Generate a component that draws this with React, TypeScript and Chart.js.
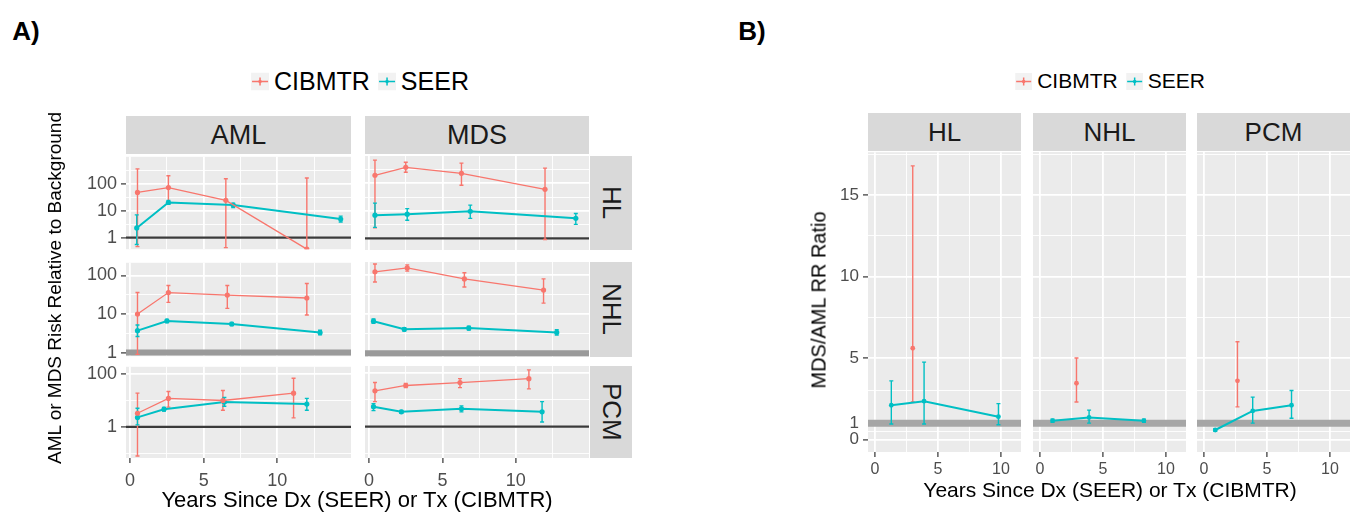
import React, { useEffect, useRef } from "react";
import { Chart, registerables } from "chart.js";
Chart.register(...registerables);

const RED = "#F8766D";
const CYAN = "#00BFC4";
const FONT = "'Liberation Sans', Arial, Helvetica, sans-serif";

// ---------- Panel A: risk relative to background (log scale) ----------
// each point: [years, RR, lower CI, upper CI]
const AML_HL_CIBMTR = [[0.5, 47, 0.47, 350], [2.6, 71, 18, 195], [6.5, 24, 0.43, 150], [12.0, 0.38, 0.38, 160]];
const AML_HL_SEER = [[0.45, 2.3, 0.56, 7], [2.6, 20, 17, 24], [7.0, 16, 13, 19], [14.3, 4.9, 3.8, 6.3]];
const MDS_HL_CIBMTR = [[0.4, 195, 2.4, 690], [2.5, 380, 250, 580], [6.3, 230, 85, 540], [12.0, 60, 0.9, 355]];
const MDS_HL_SEER = [[0.4, 6.9, 2.5, 19], [2.6, 7.5, 4.5, 12], [6.9, 9.6, 5.3, 16], [14.1, 5.3, 3.2, 8]];
const AML_NHL_CIBMTR = [[0.5, 10, 0.9, 36], [2.6, 36, 20, 55], [6.6, 31, 14, 55], [12.0, 26, 9.4, 62]];
const AML_NHL_SEER = [[0.5, 3.7, 2.6, 5.2], [2.5, 6.6, 6.0, 7.2], [6.9, 5.5, 5.0, 6.0], [12.9, 3.3, 2.9, 3.8]];
const MDS_NHL_CIBMTR = [[0.4, 120, 66, 190], [2.6, 150, 125, 180], [6.5, 79, 49, 113], [11.9, 41, 19, 79]];
const MDS_NHL_SEER = [[0.3, 6.6, 5.8, 7.5], [2.4, 4.1, 3.7, 4.5], [6.8, 4.4, 3.9, 4.9], [12.8, 3.4, 2.9, 4.0]];
const AML_PCM_CIBMTR = [[0.5, 3.3, 0.08, 19], [2.6, 12, 5.6, 22], [6.3, 10, 4.3, 24], [11.1, 19, 2.2, 69]];
const AML_PCM_SEER = [[0.5, 2.3, 1.2, 5.1], [2.3, 4.7, 4.0, 5.5], [6.4, 8.7, 6.1, 13], [12.0, 7.3, 4.3, 12]];
const MDS_PCM_CIBMTR = [[0.4, 22, 8.7, 45], [2.5, 35, 29, 42], [6.2, 45, 29, 63], [10.9, 63, 26, 135]];
const MDS_PCM_SEER = [[0.3, 5.6, 4.0, 7.3], [2.2, 3.6, 3.2, 4.1], [6.3, 4.7, 3.6, 6.0], [11.8, 3.6, 1.5, 8.7]];

// ---------- Panel B: MDS/AML RR ratio ----------
const HL_RATIO_CIBMTR = [[3.0, 5.6, 2.3, 16.8]];
const HL_RATIO_SEER = [[1.3, 2.1, 0.95, 3.6], [3.9, 2.35, 0.95, 4.75], [9.8, 1.4, 0.9, 2.2]];
const NHL_RATIO_CIBMTR = [[2.9, 3.45, 2.3, 5.0]];
const NHL_RATIO_SEER = [[1.0, 1.15, 1.05, 1.25], [3.9, 1.35, 1.0, 1.8], [8.25, 1.15, 1.05, 1.25]];
const PCM_RATIO_CIBMTR = [[2.66, 3.6, 2.0, 6.0]];
const PCM_RATIO_SEER = [[0.9, 0.58, 0.5, 0.66], [3.87, 1.75, 1.0, 2.6], [6.95, 2.1, 1.3, 3.0]];

// tick labels
const X_MAJOR = [0, 5, 10];
const X_MINOR = [2.5, 7.5, 12.5, 15];
const LOG_MAJOR_A = [1, 10, 100];
const LOG_MAJOR_PCM = [1, 100];
const B_Y_MAJOR = [0, 1, 5, 10, 15];
const B_Y_MINOR = [0.5, 3, 7.5, 12.5, 17.5];
const B_X_MAJOR = [0, 5, 10];
const B_X_MINOR = [2.5, 7.5];

const PAD = 14;

type Pt = number[];
interface Series { data: Pt[]; color: string; width: number; }
interface Spec {
  key: string;
  left: number; top: number; width: number; height: number;
  xMin: number; xMax: number; xMajor: number[]; xMinor: number[];
  yType: "logarithmic" | "linear"; yMin: number; yMax: number; yMajor: number[]; yMinor: number[];
  yNoTick?: number[];
  showX: boolean; showY: boolean; yAxisW: number; xAxisH: number; xPad: number;
  xFont: number; yFont: number;
  series: Series[];
  ref: { value: number; color: string; width: number };
  barW: number; cap: number; radius: number;
}

const near = (arr: number[], v: number) => arr.some((m) => Math.abs(m - v) < 1e-9);

const decoPlugin = {
  id: "deco",
  beforeDraw(chart: any) {
    const { ctx, chartArea: a } = chart;
    ctx.save();
    ctx.fillStyle = "#EBEBEB";
    ctx.fillRect(a.left, a.top, a.right - a.left, a.bottom - a.top);
    ctx.restore();
  },
  beforeDatasetsDraw(chart: any) {
    const spec: Spec = chart.config.options.specRef;
    const { ctx, chartArea: a, scales } = chart;
    const x = scales.x, y = scales.y;
    ctx.save();
    ctx.beginPath();
    ctx.rect(a.left, a.top, a.right - a.left, a.bottom - a.top);
    ctx.clip();
    const py = y.getPixelForValue(spec.ref.value);
    ctx.strokeStyle = spec.ref.color;
    ctx.lineWidth = spec.ref.width;
    ctx.beginPath();
    ctx.moveTo(a.left, py);
    ctx.lineTo(a.right, py);
    ctx.stroke();
    chart.data.datasets.forEach((ds: any) => {
      ctx.strokeStyle = ds.borderColor;
      ctx.lineWidth = spec.barW;
      ds.data.forEach((p: any) => {
        const px = x.getPixelForValue(p.x);
        const p1 = y.getPixelForValue(p.lo);
        const p2 = y.getPixelForValue(p.hi);
        ctx.beginPath();
        ctx.moveTo(px, p1);
        ctx.lineTo(px, p2);
        ctx.moveTo(px - spec.cap, p1);
        ctx.lineTo(px + spec.cap, p1);
        ctx.moveTo(px - spec.cap, p2);
        ctx.lineTo(px + spec.cap, p2);
        ctx.stroke();
      });
    });
    ctx.restore();
  },
};

function Panel({ spec }: { spec: Spec }) {
  const ref = useRef<HTMLCanvasElement>(null);
  const yW = spec.showY ? spec.yAxisW : 0;
  const xH = spec.showX ? spec.xAxisH : 0;
  const w = PAD + yW + spec.width + PAD;
  const h = PAD + spec.height + xH + PAD;
  useEffect(() => {
    const xTicks = [...spec.xMajor, ...spec.xMinor].sort((a, b) => a - b);
    const yTicks = [...spec.yMajor, ...spec.yMinor].sort((a, b) => a - b);
    const chart = new Chart(ref.current as HTMLCanvasElement, {
      type: "line",
      data: {
        datasets: spec.series.map((s) => ({
          data: s.data.map((p) => ({ x: p[0], y: p[1], lo: p[2], hi: p[3] })),
          borderColor: s.color,
          backgroundColor: s.color,
          borderWidth: s.width,
          pointRadius: spec.radius,
          pointBorderWidth: 0,
          pointBackgroundColor: s.color,
          showLine: s.data.length > 1,
          tension: 0,
        })) as any,
      },
      plugins: [decoPlugin],
      options: {
        specRef: spec,
        animation: false,
        responsive: false,
        devicePixelRatio: 1,
        layout: { padding: PAD },
        plugins: { legend: { display: false }, tooltip: { enabled: false } },
        scales: {
          x: {
            type: "linear",
            min: spec.xMin,
            max: spec.xMax,
            bounds: "data",
            afterBuildTicks: (s: any) => { s.ticks = xTicks.map((v) => ({ value: v })); },
            afterFit: (s: any) => { s.height = xH; },
            ticks: {
              display: spec.showX,
              autoSkip: false,
              maxRotation: 0,
              padding: spec.xPad,
              font: { size: spec.xFont, family: FONT },
              color: "#4D4D4D",
              callback: (v: any) => (near(spec.xMajor, Number(v)) ? String(v) : ""),
            },
            grid: {
              color: "#FFFFFF",
              lineWidth: (c: any) => (near(spec.xMajor, c.tick?.value) ? 1.8 : 0.9),
              drawTicks: spec.showX,
              tickLength: 5,
              tickWidth: 1.2,
              tickColor: (c: any) => (near(spec.xMajor, c.tick?.value) ? "#333333" : "rgba(0,0,0,0)"),
            },
            border: { display: false },
          },
          y: {
            type: spec.yType,
            min: spec.yMin,
            max: spec.yMax,
            bounds: "data",
            afterBuildTicks: (s: any) => { s.ticks = yTicks.map((v) => ({ value: v })); },
            afterFit: (s: any) => { s.width = yW; },
            ticks: {
              display: spec.showY,
              autoSkip: false,
              padding: 4,
              font: { size: spec.yFont, family: FONT },
              color: "#4D4D4D",
              callback: (v: any) => (near(spec.yMajor, Number(v)) ? String(v) : ""),
            },
            grid: {
              color: "#FFFFFF",
              lineWidth: (c: any) => (near(spec.yMajor, c.tick?.value) ? 1.8 : 0.9),
              drawTicks: spec.showY,
              tickLength: 5,
              tickWidth: 1.2,
              tickColor: (c: any) =>
                near(spec.yMajor, c.tick?.value) && !near(spec.yNoTick || [], c.tick?.value)
                  ? "#333333"
                  : "rgba(0,0,0,0)",
            },
            border: { display: false },
          },
        },
      } as any,
    });
    return () => chart.destroy();
  }, []);
  return (
    <canvas
      ref={ref}
      width={w}
      height={h}
      style={{ position: "absolute", left: spec.left - yW - PAD, top: spec.top - PAD, width: w, height: h }}
    />
  );
}

function Key({ color, size }: { color: string; size: number }) {
  const c = size / 2;
  return (
    <svg width={size} height={size} style={{ display: "block" }}>
      <rect x={0} y={0} width={size} height={size} fill="#F2F2F2" />
      <line x1={1} y1={c} x2={size - 1} y2={c} stroke={color} strokeWidth={1.5} />
      <line x1={c} y1={c - 4} x2={c} y2={c + 4} stroke={color} strokeWidth={1.5} />
      <circle cx={c} cy={c} r={1.8} fill={color} />
    </svg>
  );
}

function Legend({ cx, cy, font, keySize }: { cx: number; cy: number; font: number; keySize: number }) {
  return (
    <div
      style={{
        position: "absolute", left: cx, top: cy, transform: "translate(-50%,-50%)",
        display: "flex", alignItems: "center", gap: 5, fontFamily: FONT, fontSize: font, color: "#000", whiteSpace: "nowrap",
      }}
    >
      <Key color={RED} size={keySize} />
      <span style={{ marginRight: 3 }}>CIBMTR</span>
      <Key color={CYAN} size={keySize} />
      <span>SEER</span>
    </div>
  );
}

function Strip({ left, top, width, height, text, font, vertical }: any) {
  return (
    <div
      style={{
        position: "absolute", left, top, width, height, background: "#D9D9D9", color: "#1A1A1A",
        display: "flex", alignItems: "center", justifyContent: "center", fontFamily: FONT, fontSize: font,
      }}
    >
      <span style={vertical ? { writingMode: "vertical-rl" } : {}}>{text}</span>
    </div>
  );
}

function Label({ x, y, text, font, rotate, bold }: any) {
  return (
    <div
      style={{
        position: "absolute", left: x, top: y, transform: `translate(-50%,-50%)${rotate ? " rotate(-90deg)" : ""}`,
        fontFamily: FONT, fontSize: font, whiteSpace: "nowrap", color: "#000", fontWeight: bold ? 700 : 400,
      }}
    >
      {text}
    </div>
  );
}

// layout of facets
const A_COLS = [{ name: "AML", left: 126, width: 225 }, { name: "MDS", left: 365, width: 224 }];
const A_ROWS = [
  { name: "HL", top: 156, height: 94, yMin: 0.376, yMax: 977, major: LOG_MAJOR_A, minor: [0.316, 3.16, 31.6, 316], ref: { value: 1, color: "#3A3A3A", width: 2.2 } },
  { name: "NHL", top: 262, height: 95, yMin: 0.805, yMax: 213, major: LOG_MAJOR_A, minor: [3.16, 31.6], ref: { value: 1, color: "#9A9A9A", width: 6 } },
  { name: "PCM", top: 366, height: 92, yMin: 0.067, yMax: 188, major: LOG_MAJOR_PCM, minor: [0.1, 10], ref: { value: 1, color: "#3A3A3A", width: 2.2 } },
];
const A_DATA: Record<string, Pt[][]> = {
  "AML-HL": [AML_HL_CIBMTR, AML_HL_SEER],
  "MDS-HL": [MDS_HL_CIBMTR, MDS_HL_SEER],
  "AML-NHL": [AML_NHL_CIBMTR, AML_NHL_SEER],
  "MDS-NHL": [MDS_NHL_CIBMTR, MDS_NHL_SEER],
  "AML-PCM": [AML_PCM_CIBMTR, AML_PCM_SEER],
  "MDS-PCM": [MDS_PCM_CIBMTR, MDS_PCM_SEER],
};
const B_COLS = [
  { name: "HL", left: 868, width: 153, data: [HL_RATIO_CIBMTR, HL_RATIO_SEER] },
  { name: "NHL", left: 1033, width: 153, data: [NHL_RATIO_CIBMTR, NHL_RATIO_SEER] },
  { name: "PCM", left: 1197, width: 153, data: [PCM_RATIO_CIBMTR, PCM_RATIO_SEER] },
];

export default function App() {
  const specs: Spec[] = [];
  A_ROWS.forEach((r, ri) => {
    A_COLS.forEach((c, ci) => {
      const d = A_DATA[`${c.name}-${r.name}`];
      specs.push({
        key: `A-${c.name}-${r.name}`,
        left: c.left, top: r.top, width: c.width, height: r.height,
        xMin: -0.28, xMax: 15.0, xMajor: X_MAJOR, xMinor: X_MINOR,
        yType: "logarithmic", yMin: r.yMin, yMax: r.yMax, yMajor: r.major, yMinor: r.minor,
        showX: ri === 2, showY: ci === 0, yAxisW: 60, xAxisH: 36, xPad: 7, xFont: 18, yFont: 18,
        series: [{ data: d[0], color: RED, width: 1.3 }, { data: d[1], color: CYAN, width: 2 }],
        ref: r.ref, barW: 1.4, cap: 2, radius: 2.6,
      });
    });
  });
  B_COLS.forEach((c, ci) => {
    specs.push({
      key: `B-${c.name}`,
      left: c.left, top: 152, width: c.width, height: 300,
      xMin: -0.55, xMax: 11.59, xMajor: B_X_MAJOR, xMinor: B_X_MINOR,
      yType: "linear", yMin: -0.77, yMax: 17.64, yMajor: B_Y_MAJOR, yMinor: B_Y_MINOR, yNoTick: [1],
      showX: true, showY: ci === 0, yAxisW: 44, xAxisH: 30, xPad: 3, xFont: 16, yFont: 17,
      series: [{ data: c.data[0], color: RED, width: 1.3 }, { data: c.data[1], color: CYAN, width: 2 }],
      ref: { value: 1, color: "#A6A6A6", width: 7 }, barW: 1.4, cap: 2, radius: 2.4,
    });
  });

  return (
    <div style={{ position: "absolute", left: 0, top: 0, width: 1360, height: 518, background: "#FFFFFF", overflow: "hidden" }}>
      <Label x={26} y={31} text="A)" font={26} bold />
      <Label x={752} y={31} text="B)" font={26} bold />
      <Legend cx={360} cy={81} font={25} keySize={18} />
      <Legend cx={1110} cy={81} font={21} keySize={17} />
      {A_COLS.map((c) => (
        <Strip key={c.name} left={c.left} top={116} width={c.width} height={38} text={c.name} font={27} />
      ))}
      {A_ROWS.map((r) => (
        <Strip key={r.name} left={590} top={r.top} width={42} height={r.height} text={r.name} font={26} vertical />
      ))}
      {B_COLS.map((c) => (
        <Strip key={c.name} left={c.left} top={113} width={c.width} height={38} text={c.name} font={26} />
      ))}
      {specs.map((s) => (
        <Panel key={s.key} spec={s} />
      ))}
      <Label x={55} y={288} text="AML or MDS Risk Relative to Background" font={19} rotate />
      <Label x={357} y={500} text="Years Since Dx (SEER) or Tx (CIBMTR)" font={22} />
      <Label x={819} y={300} text="MDS/AML RR Ratio" font={20} rotate />
      <Label x={1110} y={490} text="Years Since Dx (SEER) or Tx (CIBMTR)" font={21} />
    </div>
  );
}
